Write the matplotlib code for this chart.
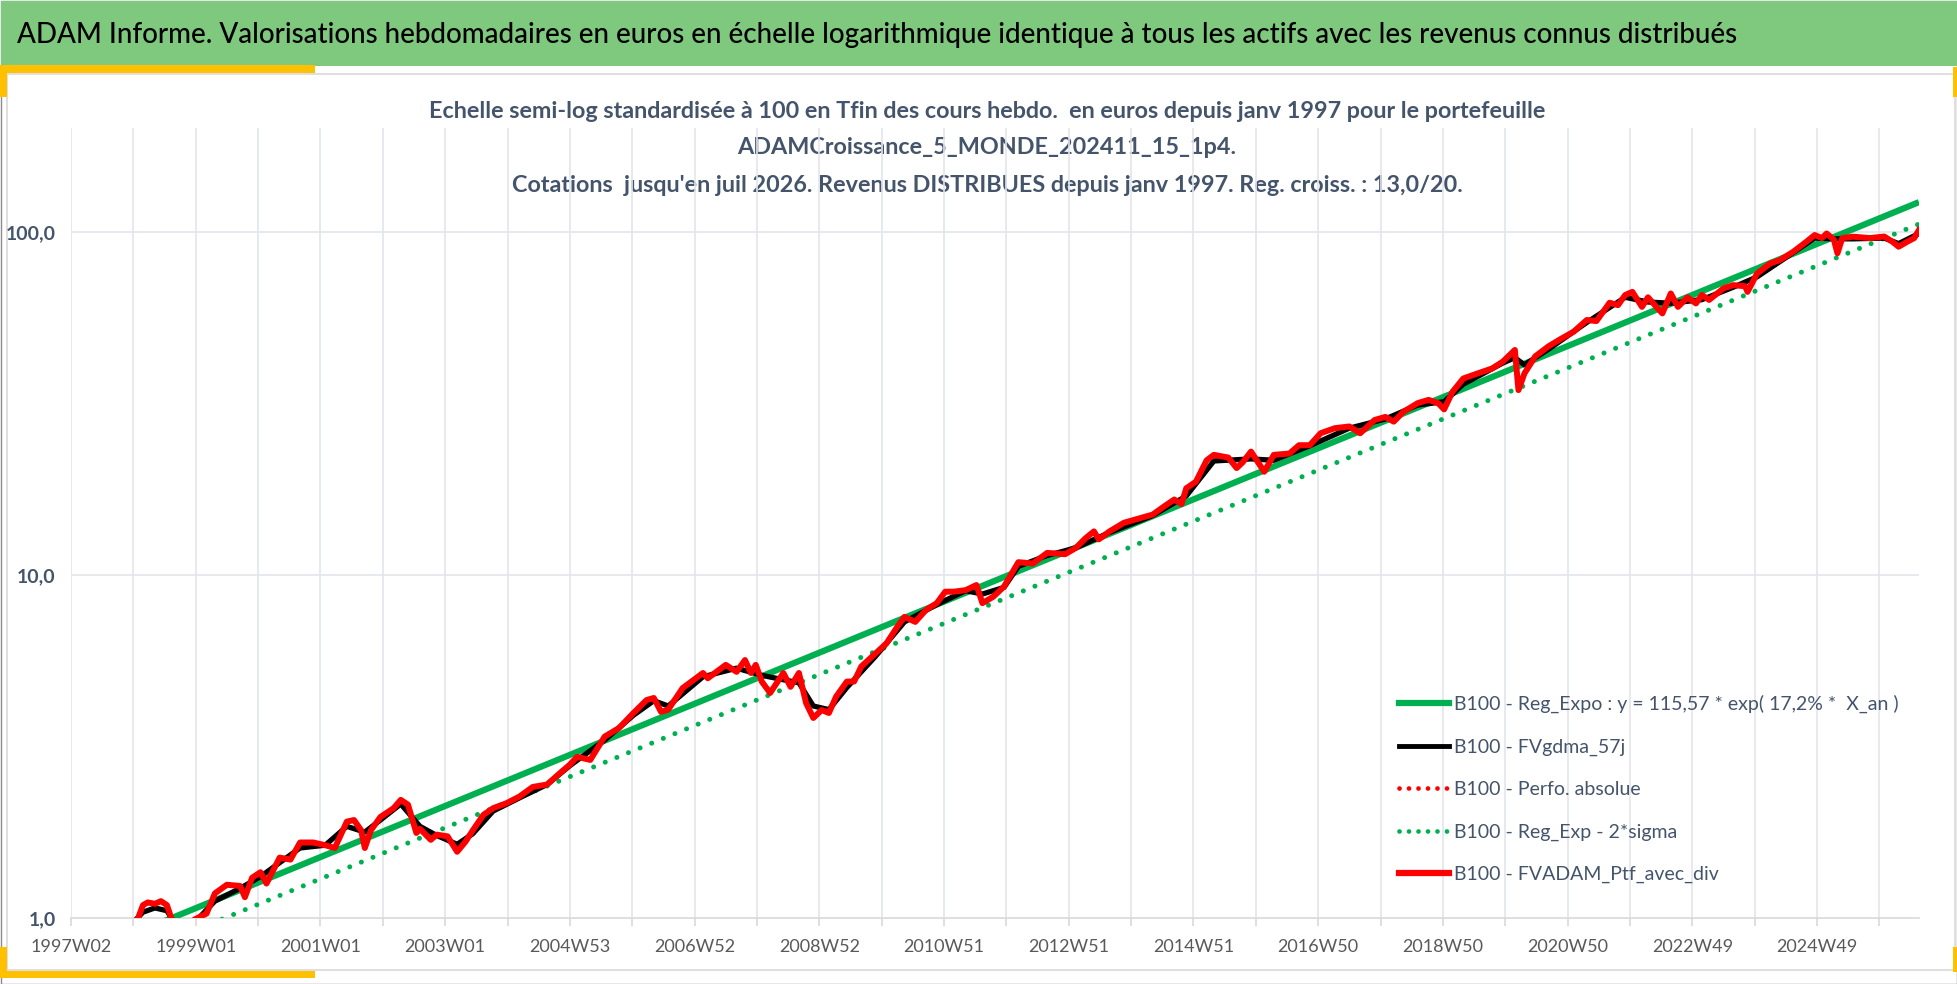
import matplotlib
matplotlib.use('Agg')
import matplotlib.pyplot as plt
from matplotlib.patches import Rectangle
from matplotlib.lines import Line2D

W, H = 1958, 984
FONT = ['Lato', 'DejaVu Sans']
SLATE = '#44546A'

# x = weeks since 1997W02
ptf_weeks = [0, 16, 31, 47, 56, 60, 64, 70, 75, 80, 84, 91, 99, 103, 113, 120, 130, 141, 145, 151,
             158, 163, 174, 183, 191, 202, 212, 220, 230, 236, 242, 245, 250, 258, 269, 275, 281, 288, 291, 300,
             305, 314, 322, 329, 335, 344, 352, 363, 374, 385, 397, 408, 416, 422, 433, 445, 457, 469, 480, 486,
             492, 498, 510, 527, 531, 546, 555, 562, 567, 571, 576, 583, 594, 600, 607, 613, 619, 626, 632, 638,
             647, 653, 659, 671, 680, 689, 695, 704, 713, 722, 729, 736, 746, 755, 760, 769, 778, 790, 802, 814,
             829, 838, 846, 853, 857, 866, 878, 890, 902, 911, 920, 926, 930, 938, 947, 953, 965, 972, 977, 984,
             995, 1003, 1016, 1024, 1033, 1042, 1054, 1066, 1075, 1087, 1096, 1103, 1111, 1123, 1132, 1140, 1145, 1152, 1161, 1173,
             1185, 1194, 1204, 1207, 1212, 1221, 1232, 1242, 1253, 1264, 1272, 1283, 1290, 1296, 1302, 1310, 1315, 1322, 1327, 1334,
             1340, 1348, 1355, 1360, 1366, 1378, 1386, 1396, 1398, 1406, 1417, 1425, 1436, 1447, 1454, 1460, 1464, 1470, 1473, 1477,
             1486, 1500, 1512, 1519, 1524, 1531, 1537, 1541]
ptf_vals = [0.70, 0.78, 0.82, 0.93, 1.00, 1.09, 1.11, 1.10, 1.12, 1.09, 0.99, 0.88, 0.90, 0.99, 1.03, 1.18, 1.25, 1.24, 1.15, 1.31,
            1.36, 1.26, 1.50, 1.48, 1.66, 1.66, 1.63, 1.60, 1.91, 1.93, 1.80, 1.60, 1.80, 1.97, 2.09, 2.21, 2.14, 1.77, 1.82, 1.69,
            1.75, 1.73, 1.56, 1.67, 1.80, 2.00, 2.09, 2.16, 2.26, 2.41, 2.45, 2.65, 2.80, 2.95, 2.89, 3.38, 3.58, 3.96, 4.32, 4.38,
            3.99, 4.05, 4.68, 5.18, 5.00, 5.47, 5.22, 5.65, 5.18, 5.47, 4.89, 4.53, 5.18, 4.72, 5.18, 4.23, 3.83, 4.04, 3.96, 4.42,
            4.89, 4.89, 5.41, 5.91, 6.32, 7.06, 7.55, 7.30, 7.91, 8.28, 8.94, 8.94, 9.03, 9.35, 8.28, 8.64, 9.25, 10.9, 10.8, 11.6,
            11.5, 12.0, 12.8, 13.4, 12.7, 13.4, 14.2, 14.6, 15.0, 15.8, 16.6, 16.1, 17.9, 18.7, 21.6, 22.4, 22.0, 20.5, 21.3, 22.9,
            20.0, 22.4, 22.6, 23.9, 23.9, 25.9, 26.8, 27.1, 25.9, 28.3, 28.9, 28.0, 29.9, 31.7, 32.4, 31.7, 30.4, 34.2, 37.4, 38.7,
            40.0, 41.9, 45.3, 34.6, 38.7, 43.4, 46.4, 48.7, 51.2, 55.4, 55.0, 62.2, 61.2, 65.5, 66.9, 60.5, 64.5, 60.5, 57.9, 66.2,
            60.5, 64.5, 61.9, 65.5, 63.4, 68.5, 70.0, 69.5, 66.9, 75.7, 81.0, 82.8, 87.5, 93.6, 98.0, 96.0, 99.0, 95.0, 86.7, 96.0,
            96.9, 96.0, 97.0, 93.6, 90.6, 93.6, 96.0, 101.4]

mm_weeks = [0, 47, 60, 70, 80, 90, 103, 120, 141, 158, 174, 191, 212, 230, 245, 258, 275, 291, 305, 322,
            335, 352, 374, 397, 416, 445, 469, 486, 498, 527, 555, 576, 594, 607, 619, 632, 647, 671, 695, 722,
            746, 760, 778, 790, 814, 838, 866, 902, 930, 953, 984, 1003, 1033, 1066, 1096, 1123, 1145, 1161, 1194, 1204,
            1212, 1232, 1264, 1296, 1315, 1334, 1360, 1386, 1406, 1436, 1454, 1470, 1486, 1512, 1524, 1541]
mm_vals = [0.70, 0.93, 1.04, 1.07, 1.05, 0.92, 0.97, 1.12, 1.22, 1.32, 1.45, 1.60, 1.63, 1.85, 1.78, 1.93, 2.15, 1.85, 1.74, 1.64,
           1.76, 2.05, 2.24, 2.45, 2.78, 3.30, 3.90, 4.30, 4.15, 5.05, 5.35, 5.10, 4.95, 4.85, 4.15, 4.05, 4.70, 5.80, 7.30, 8.20,
           9.00, 8.80, 9.20, 10.6, 11.4, 12.0, 13.3, 14.9, 17.0, 21.5, 21.8, 21.6, 23.8, 26.8, 28.5, 31.3, 32.0, 36.0, 41.5, 43.0,
           41.0, 45.5, 54.5, 64.5, 62.5, 62.0, 63.5, 69.0, 74.0, 87.0, 96.0, 95.5, 95.5, 96.0, 92.5, 99.0]

reg_weeks = [0, 1541]
reg_vals = [0.758, 122.2]
reg_low_vals = [0.655, 105.5]

tick_weeks = [0, 104, 208, 312, 416, 520, 624, 728, 832, 936, 1040, 1144, 1248, 1352, 1456]
tick_labels = ['1997W02', '1999W01', '2001W01', '2003W01', '2004W53', '2006W52', '2008W52', '2010W51',
               '2012W51', '2014W51', '2016W50', '2018W50', '2020W50', '2022W49', '2024W49']

legend_labels = ['B100 - Reg_Expo : y = 115,57 * exp( 17,2% *  X_an )', 'B100 - FVgdma_57j',
                 'B100 - Perfo. absolue', 'B100 - Reg_Exp - 2*sigma', 'B100 - FVADAM_Ptf_avec_div']

title = ('ADAM Informe. Valorisations hebdomadaires en euros en \u00e9chelle logarithmique identique '
         '\u00e0 tous les actifs avec les revenus connus distribu\u00e9s')
subtitle = ['Echelle semi-log standardis\u00e9e \u00e0 100 en Tfin des cours hebdo.  en euros depuis janv 1997 pour le portefeuille',
            'ADAMCroissance_5_MONDE_202411_15_1p4.',
            "Cotations  jusqu'en juil 2026. Revenus DISTRIBUES depuis janv 1997. Reg. croiss. : 13,0/20."]

fig = plt.figure(figsize=(W / 100, H / 100), dpi=100)

# frame / banner drawn in pixel coordinates
bg = fig.add_axes([0, 0, 1, 1], zorder=0)
bg.set_xlim(0, W)
bg.set_ylim(H, 0)
bg.axis('off')
bg.add_patch(Rectangle((0.5, 0.5), W - 1, H - 1, facecolor='white', edgecolor='#8c8c8c', lw=1))
bg.add_patch(Rectangle((0.5, 0.5), W - 1, 65, facecolor='#7FC97F', edgecolor='none'))
bg.add_patch(Rectangle((7, 74), W - 10, 896, facecolor='white', edgecolor='#D9D9D9', lw=1.2))
yellow = '#FFC000'
for x, y, w, h in [(0, 65, 315, 8), (0, 65, 7, 32), (0, 971, 315, 7), (0, 947, 7, 31),
                   (1953, 67, 5, 30), (1953, 947, 5, 25)]:
    bg.add_patch(Rectangle((x, y), w, h, facecolor=yellow, edgecolor='none'))
bg.text(17, 35, title, fontsize=20, family=FONT, fontweight='medium', color='black', va='center', ha='left')
for yy, s in zip([112, 148, 185], subtitle):
    bg.text(987, yy, s, fontsize=16.8, family=FONT, fontweight='bold', color=SLATE, va='center', ha='center')

ax = fig.add_axes([71 / W, 66 / H, (1919 - 71) / W, (918 - 128) / H], zorder=1)
ax.patch.set_alpha(0)
ax.set_yscale('log')
ax.set_xlim(0, 1541)
ax.set_ylim(1, 201)

for wk in range(0, 1541, 52):
    ax.axvline(wk, color='#E3E5EC', lw=1.2, zorder=0)
for v in [10, 100]:
    ax.axhline(v, color='#E3E5EC', lw=1.2, zorder=0)

ax.plot(reg_weeks, reg_vals, color='#00B050', lw=4.5, solid_capstyle='butt', zorder=3)
ax.plot(reg_weeks, reg_low_vals, color='#00B050', lw=3.6, linestyle=(0, (0.01, 2.5)),
        dash_capstyle='round', zorder=3)
ax.plot(mm_weeks, mm_vals, color='black', lw=3.8, zorder=4)
ax.plot(ptf_weeks, ptf_vals, color='red', lw=3.2, linestyle=(0, (0.01, 2.5)), dash_capstyle='round', zorder=4)
ax.plot(ptf_weeks, ptf_vals, color='red', lw=4.3, solid_joinstyle='round', zorder=5)

for sp in ['top', 'right', 'left']:
    ax.spines[sp].set_visible(False)
ax.spines['bottom'].set_color('#D9D9D9')
ax.spines['bottom'].set_linewidth(1.2)

ax.set_xticks(range(0, 1541, 52))
ax.set_xticklabels([tick_labels[tick_weeks.index(w)] if w in tick_weeks else '' for w in range(0, 1541, 52)],
                   family=FONT, fontsize=13, color='#595959')
ax.tick_params(axis='x', length=6, color='#D9D9D9', width=1.2, pad=9)
ax.set_yticks([1, 10, 100])
ax.set_yticklabels(['1,0', '10,0', '100,0'], family=FONT, fontsize=14, fontweight='bold', color=SLATE)
ax.yaxis.set_minor_locator(matplotlib.ticker.NullLocator())
ax.tick_params(axis='y', length=0, pad=11)

handles = [Line2D([], [], color='#00B050', lw=4.5),
           Line2D([], [], color='black', lw=3.5),
           Line2D([], [], color='red', lw=3.4, linestyle=(0, (0.01, 2.0)), dash_capstyle='round'),
           Line2D([], [], color='#00B050', lw=3.4, linestyle=(0, (0.01, 2.0)), dash_capstyle='round'),
           Line2D([], [], color='red', lw=4.5)]
leg = fig.legend(handles, legend_labels, loc='upper left', bbox_to_anchor=(1399 / W, 1 - 695 / H),
                 frameon=False, borderpad=0, borderaxespad=0, handlelength=2.55, handletextpad=0.28,
                 labelspacing=1.3, prop={'family': FONT, 'size': 14})
for t in leg.get_texts():
    t.set_color(SLATE)

fig.savefig('out.png', dpi=100)
